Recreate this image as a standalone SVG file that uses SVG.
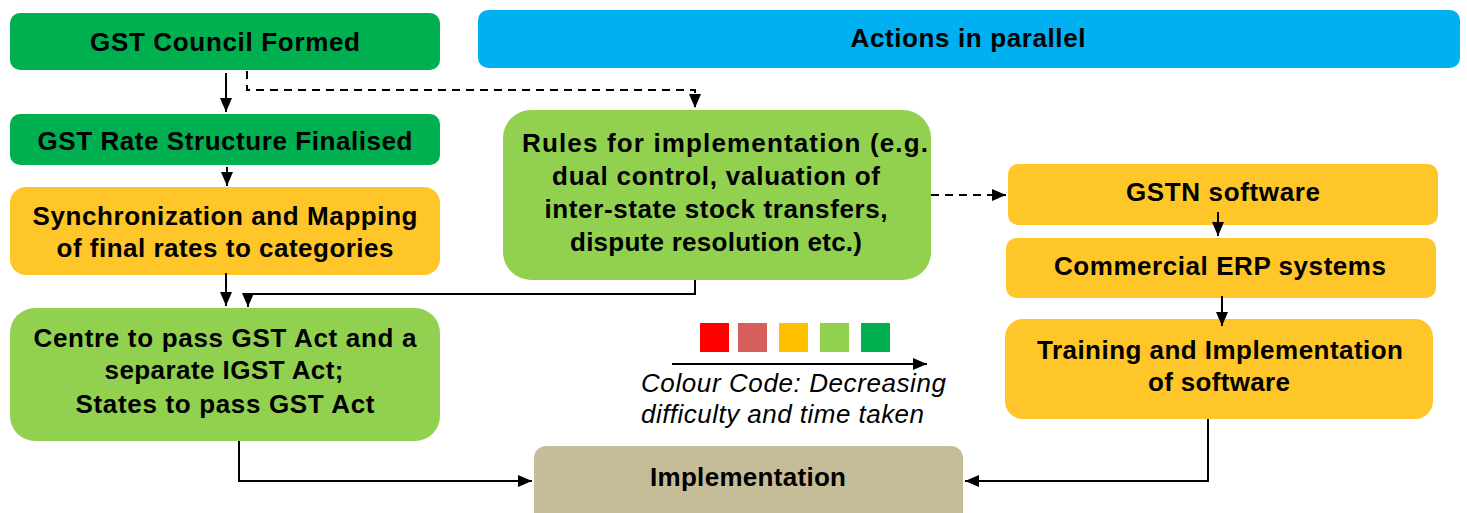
<svg xmlns="http://www.w3.org/2000/svg" width="1467" height="513" viewBox="0 0 1467 513">
<defs>
<marker id="ah" viewBox="0 0 14 12" refX="14" refY="6" markerWidth="14" markerHeight="12" markerUnits="userSpaceOnUse" orient="auto">
<path d="M0,0 L14,6 L0,12 z" fill="#000"/>
</marker>
<style>
.t{font-family:"Liberation Sans",Arial,sans-serif;font-weight:bold;font-size:26px;fill:#000;text-anchor:middle}
.lg{font-family:"Liberation Sans",Arial,sans-serif;font-style:italic;font-size:26px;fill:#000}
.c{fill:none;stroke:#000;stroke-width:2}
.d{fill:none;stroke:#000;stroke-width:2;stroke-dasharray:8,6}
.dg{fill:#00B050}.lgn{fill:#92D050}.or{fill:#FFC629}.bl{fill:#00B0F0}.tn{fill:#C4BD97}
</style>
</defs>
<rect width="1467" height="513" fill="#fff"/>
<g id="council"><rect class="dg" x="10" y="13" width="430" height="57" rx="10"/><text class="t" x="225" y="51" textLength="270" lengthAdjust="spacing">GST Council Formed</text></g>
<g id="parallel"><rect class="bl" x="478" y="10" width="982" height="58" rx="10"/><text class="t" x="968" y="47" textLength="235" lengthAdjust="spacing">Actions in parallel</text></g>
<g id="rate"><rect class="dg" x="10" y="114" width="430" height="51" rx="10"/><text class="t" x="225" y="150" textLength="375" lengthAdjust="spacing">GST Rate Structure Finalised</text></g>
<g id="sync"><rect class="or" x="10" y="187" width="430" height="88" rx="16"/><text class="t" x="225" y="225" textLength="385" lengthAdjust="spacing">Synchronization and Mapping</text><text class="t" x="225" y="257" textLength="337" lengthAdjust="spacing">of final rates to categories</text></g>
<g id="centre"><rect class="lgn" x="10" y="308" width="430" height="133" rx="25"/><text class="t" x="225" y="347" textLength="383" lengthAdjust="spacing">Centre to pass GST Act and a</text><text class="t" x="224" y="379" textLength="239" lengthAdjust="spacing">separate IGST Act;</text><text class="t" x="225" y="413" textLength="299" lengthAdjust="spacing">States to pass GST Act</text></g>
<g id="rules"><rect class="lgn" x="503" y="110" width="428" height="170" rx="28"/><text class="t" x="725" y="152" textLength="406" lengthAdjust="spacing">Rules for implementation (e.g.</text><text class="t" x="716" y="185" textLength="328" lengthAdjust="spacing">dual control, valuation of</text><text class="t" x="716" y="218" textLength="343" lengthAdjust="spacing">inter-state stock transfers,</text><text class="t" x="716" y="251" textLength="292" lengthAdjust="spacing">dispute resolution etc.)</text></g>
<g id="gstn"><rect class="or" x="1008" y="164" width="430" height="61" rx="10"/><text class="t" x="1223" y="201" textLength="194" lengthAdjust="spacing">GSTN software</text></g>
<g id="erp"><rect class="or" x="1006" y="238" width="430" height="60" rx="10"/><text class="t" x="1220" y="275" textLength="332" lengthAdjust="spacing">Commercial ERP systems</text></g>
<g id="training"><rect class="or" x="1005" y="319" width="428" height="100" rx="18"/><text class="t" x="1220" y="359" textLength="366" lengthAdjust="spacing">Training and Implementation</text><text class="t" x="1219" y="391" textLength="142" lengthAdjust="spacing">of software</text></g>
<g id="impl"><rect class="tn" x="534" y="446" width="429" height="80" rx="12"/><text class="t" x="748" y="486" textLength="196" lengthAdjust="spacing">Implementation</text></g>
<g id="legend">
<rect x="700" y="323" width="29" height="29" fill="#FF0000"/>
<rect x="738" y="323" width="29" height="29" fill="#D65F5B"/>
<rect x="779" y="323" width="29" height="29" fill="#FFC000"/>
<rect x="820" y="323" width="29" height="29" fill="#92D050"/>
<rect x="861" y="323" width="29" height="29" fill="#00B050"/>
<line class="c" x1="672" y1="364" x2="927" y2="364" marker-end="url(#ah)"/>
<text class="lg" x="641" y="392" textLength="305" lengthAdjust="spacing">Colour Code: Decreasing</text>
<text class="lg" x="641" y="423" textLength="283" lengthAdjust="spacing">difficulty and time taken</text>
</g>
<g id="connectors">
<line class="c" x1="226" y1="73" x2="226" y2="112" marker-end="url(#ah)"/>
<path class="d" d="M247,71 V90 H695 V108" marker-end="url(#ah)"/>
<line class="c" x1="227" y1="167" x2="227" y2="186" marker-end="url(#ah)"/>
<line class="c" x1="226" y1="273" x2="226" y2="306" marker-end="url(#ah)"/>
<path class="c" d="M695,280 V294 H248 V307" marker-end="url(#ah)"/>
<line class="d" x1="931" y1="195" x2="1006" y2="195" marker-end="url(#ah)"/>
<line class="c" x1="1218" y1="212" x2="1218" y2="236" marker-end="url(#ah)"/>
<line class="c" x1="1222" y1="296" x2="1222" y2="326" marker-end="url(#ah)"/>
<path class="c" d="M239,441 V481 H532" marker-end="url(#ah)"/>
<path class="c" d="M1208,419 V481 H965" marker-end="url(#ah)"/>
</g>
</svg>
